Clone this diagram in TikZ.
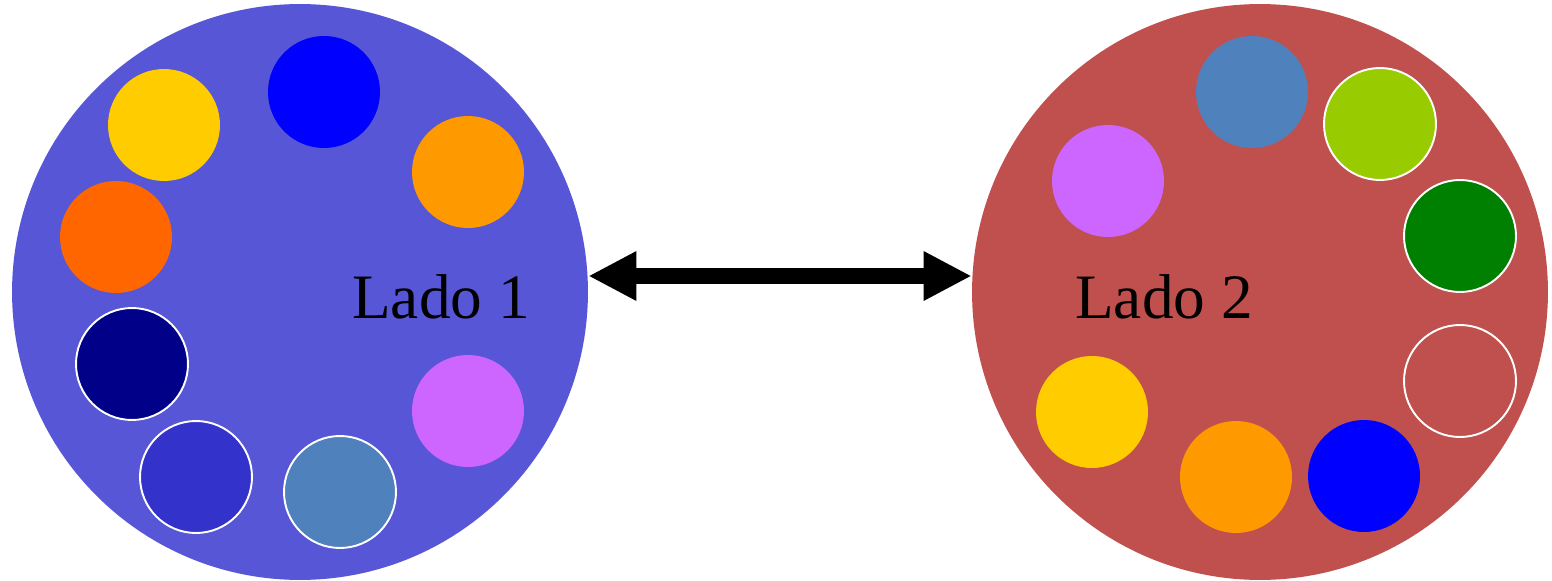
\documentclass[tikz,border=0pt]{standalone}
\usepackage{fontspec}
\setmainfont{Liberation Serif}
\usetikzlibrary{arrows.meta}
\definecolor{ladoazul}{HTML}{5656D6}
\definecolor{ladorojo}{HTML}{C0504D}
\definecolor{acero}{HTML}{4F81BD}

\begin{document}
\begin{tikzpicture}[x=0.02cm, y=-0.02cm,
    lado/.style={circle, inner sep=0pt, minimum size=11.52cm},
    bola/.style={circle, inner sep=0pt, minimum size=2.24cm},
    borde/.style={bola, draw=white, line width=1.1pt}]
\useasboundingbox (0,0) rectangle (1552,581);
% los dos lados
\node[lado, fill=ladoazul] (lado1) at (300,292) {};
\node[lado, fill=ladorojo] (lado2) at (1260,292) {};
% bolas del lado 1
\node[bola, fill={rgb,255:red,0;green,0;blue,255}] (a1) at (324,92) {};
\node[bola, fill={rgb,255:red,255;green,204;blue,0}] (a2) at (164,125) {};
\node[bola, fill={rgb,255:red,255;green,153;blue,0}] (a3) at (468,172) {};
\node[bola, fill={rgb,255:red,255;green,102;blue,0}] (a4) at (116,237) {};
\node[borde, fill={rgb,255:red,0;green,0;blue,136}] (a5) at (132,364) {};
\node[bola, fill={rgb,255:red,204;green,102;blue,255}] (a6) at (468,411) {};
\node[borde, fill={rgb,255:red,51;green,51;blue,204}] (a7) at (196,477) {};
\node[borde, fill=acero] (a8) at (340,492) {};
% bolas del lado 2
\node[bola, fill=acero] (b1) at (1252,92) {};
\node[borde, fill={rgb,255:red,153;green,204;blue,0}] (b2) at (1380,124) {};
\node[bola, fill={rgb,255:red,204;green,102;blue,255}] (b3) at (1108,181) {};
\node[borde, fill={rgb,255:red,0;green,128;blue,0}] (b4) at (1460,236) {};
\node[borde, fill=ladorojo] (b5) at (1460,381) {};
\node[bola, fill={rgb,255:red,255;green,204;blue,0}] (b6) at (1092,412) {};
\node[bola, fill={rgb,255:red,255;green,153;blue,0}] (b7) at (1236,477) {};
\node[bola, fill={rgb,255:red,0;green,0;blue,255}] (b8) at (1364,476) {};
% etiquetas
\node[font=\fontsize{36}{43}\selectfont] (t1) at (441,297) {Lado 1};
\node[font=\fontsize{36}{43}\selectfont] (t2) at (1164,297) {Lado 2};
% flecha
\draw[line width=0.32cm, {Triangle[length=0.96cm, width=0.92cm]}-{Triangle[length=0.96cm, width=0.92cm]}]
  ([yshift=0.32cm]lado1.east) -- ([yshift=0.32cm]lado2.west);
\end{tikzpicture}
\end{document}
